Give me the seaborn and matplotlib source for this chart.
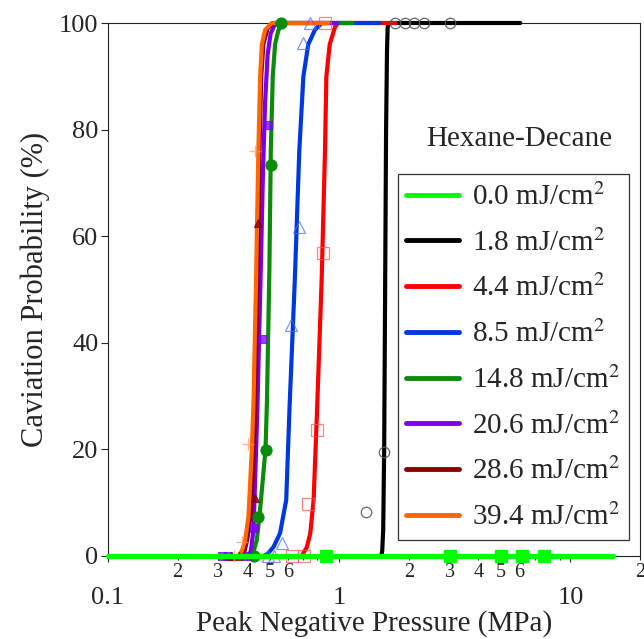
import numpy as np
import pandas as pd
import seaborn as sns
import matplotlib
matplotlib.use("Agg")
import matplotlib.pyplot as plt

sns.set_style("ticks")
plt.rcParams["font.family"] = ["Liberation Serif", "DejaVu Serif"]
plt.rcParams["mathtext.fontset"] = "stix"

# ---------------- data ----------------
fluences = ["0.0", "1.8", "4.4", "8.5", "14.8", "20.6", "28.6", "39.4"]
colors = ["#00ff00", "#000000", "#ff0000", "#0038e0", "#0a8c0a", "#7a00f0", "#8b0000", "#ff6600"]

# fitted curves (pressure MPa, probability %)
c00_x = [0.1, 15.3]
c00_y = [0, 0]
c18_x = [1.45, 1.52, 1.535, 1.55, 1.565, 1.58, 1.595, 1.61, 1.62, 1.63, 6.07]
c18_y = [0, 0, 1, 5, 20, 50, 80, 95, 99, 100, 100]
c44_x = [0.60, 0.69, 0.725, 0.75, 0.775, 0.80, 0.84, 0.868, 0.88, 0.91, 0.96, 0.99, 1.75]
c44_y = [0, 0, 1.7, 4.3, 10.5, 26, 52, 76, 90, 96, 99.3, 100, 100]
c85_x = [0.42, 0.47, 0.49, 0.52, 0.555, 0.59, 0.61, 0.643, 0.672, 0.70, 0.735, 0.785, 0.84, 1.50]
c85_y = [0, 0, 0.4, 1.7, 4.3, 10.5, 28, 52, 76, 90, 96, 98.7, 100, 100]
c148_x = [0.38, 0.41, 0.426, 0.44, 0.452, 0.48, 0.487, 0.499, 0.506, 0.516, 0.528, 0.546, 0.574, 1.14]
c148_y = [0, 0, 0.8, 3, 7.4, 20, 29, 54, 76, 90, 96, 98.7, 100, 100]
c206_x = [0.37, 0.405, 0.415, 0.426, 0.443, 0.458, 0.468, 0.478, 0.49, 0.505, 0.53, 0.98]
c206_y = [0, 0, 1, 5, 28, 54, 72, 85, 94, 98, 100, 100]
c286_x = [0.36, 0.385, 0.40, 0.415, 0.428, 0.436, 0.445, 0.452, 0.46, 0.47, 0.49, 0.52, 0.88]
c286_y = [0, 0, 3, 8, 20, 35, 55, 76, 90, 96, 99, 100, 100]
c394_x = [0.33, 0.366, 0.38, 0.392, 0.405, 0.419, 0.426, 0.437, 0.447, 0.455, 0.463, 0.478, 0.511, 0.90]
c394_y = [0, 0, 1, 3, 7.4, 20, 29, 52, 76, 90, 96, 98.7, 100, 100]

# measured points
p00_x = [0.88, 3.0, 5.0, 6.2, 7.7]
p00_y = [0, 0, 0, 0, 0]
p18_x = [1.30, 1.57, 1.75, 1.93, 2.10, 2.32, 3.02]
p18_y = [8.2, 19.6, 100, 100, 100, 100, 100]
p44_x = [0.624, 0.701, 0.736, 0.801, 0.85, 0.87]
p44_y = [0, 0, 9.8, 23.6, 56.8, 100]
p85_x = [0.49, 0.52, 0.565, 0.618, 0.673, 0.696, 0.749]
p85_y = [0, 0, 2.4, 43.3, 61.7, 96.2, 100]
p148_x = [0.43, 0.447, 0.48, 0.506, 0.561]
p148_y = [0, 7.3, 19.8, 73.4, 100]
p206_x = [0.31, 0.33, 0.398, 0.426, 0.463, 0.491]
p206_y = [0, 0, 0, 5.2, 40.8, 80.9]
p286_x = [0.34, 0.37, 0.433, 0.447]
p286_y = [0, 0, 10.8, 62.4]
p394_x = [0.35, 0.38, 0.405, 0.433]
p394_y = [0, 2.7, 21, 75.9]

x_major = [0.1, 1, 10]
x_major_labels = ["0.1", "1", "10"]
y_ticks = [0, 20, 40, 60, 80, 100]

curves = [(c00_x, c00_y), (c18_x, c18_y), (c44_x, c44_y), (c85_x, c85_y),
          (c148_x, c148_y), (c206_x, c206_y), (c286_x, c286_y), (c394_x, c394_y)]
points = [(p00_x, p00_y), (p18_x, p18_y), (p44_x, p44_y), (p85_x, p85_y),
          (p148_x, p148_y), (p206_x, p206_y), (p286_x, p286_y), (p394_x, p394_y)]

# marker styles: (marker, size, facecolor, edgecolor, alpha, mew)
mstyles = [
    ("s", 9, "#00ff00", "#00ff00", 1.0, 1.0),
    ("o", 7.5, "none", "#555555", 0.9, 0.9),
    ("s", 8, "none", "#ff5050", 0.7, 0.9),
    ("^", 8.5, "none", "#4a6cf0", 0.7, 0.9),
    ("o", 8, "#0a8c0a", "#0a8c0a", 1.0, 0.8),
    ("s", 6, "#7a00f0", "#7a00f0", 0.75, 0.8),
    ("^", 5.5, "#8b0000", "#8b0000", 0.8, 0.8),
    ("+", 9, "#ff9060", "#ff9060", 0.7, 1.0),
]

# ---------------- figure ----------------
fig = plt.figure(figsize=(6.44, 6.39), dpi=100)
ax = fig.add_axes([0.1677, 0.1299, 0.8261, 0.8341])
ax.set_xscale("log")

order = [1, 2, 3, 4, 5, 6, 7, 0]
handles = {}
for i in order:
    cx, cy = curves[i]
    lw = 3.8 if i == 0 else 3.0
    sns.lineplot(x=cx, y=cy, ax=ax, color=colors[i], lw=lw, estimator=None,
                 sort=False, clip_on=False, zorder=3 + (2 if i == 0 else 0),
                 label=f"{fluences[i]} mJ/cm$^2$", legend=False)
    handles[i] = ax.get_lines()[-1]

for i in [1, 2, 3, 4, 5, 6, 7, 0]:
    px, py = points[i]
    m, ms, fc, ec, al, mew = mstyles[i]
    sns.lineplot(x=px, y=py, ax=ax, color=ec, linestyle="none", marker=m,
                 markersize=ms, markerfacecolor=fc, markeredgecolor=ec,
                 markeredgewidth=mew, alpha=al, estimator=None, sort=False,
                 clip_on=False, zorder=6 if i == 0 else 4, legend=False)

ax.set_xlim(0.1, 20)
ax.set_ylim(0, 100)

# ticks
ax.set_xticks(x_major)
ax.set_xticklabels(x_major_labels)
minor_ticks = [0.2, 0.3, 0.4, 0.5, 0.6, 0.7, 0.8, 0.9,
               2, 3, 4, 5, 6, 7, 8, 9, 20]
minor_labels = ["2", "3", "4", "5", "6", "", "", "",
                "2", "3", "4", "5", "6", "", "", "", "2"]
ax.set_xticks(minor_ticks, minor=True)
ax.set_xticklabels(minor_labels, minor=True)
ax.set_yticks(y_ticks)
ax.set_yticklabels([str(v) for v in y_ticks])

ax.tick_params(axis="x", which="major", direction="out", length=4, width=0.8,
               labelsize=19, pad=18)
ax.tick_params(axis="x", which="minor", direction="out", length=3, width=0.8,
               labelsize=14.5, pad=2)
ax.tick_params(axis="y", which="both", direction="out", length=5, width=0.8,
               labelsize=19, pad=2)
ax.yaxis.set_minor_locator(matplotlib.ticker.NullLocator())

for s in ax.spines.values():
    s.set_visible(True)
    s.set_linewidth(0.8)
    s.set_color("#222222")

ax.set_xlabel("Peak Negative Pressure (MPa)", fontsize=21, labelpad=1)
ax.set_ylabel("Caviation Probability (%)", fontsize=22, labelpad=6)

# legend
leg_order = [0, 1, 2, 3, 4, 5, 6, 7]
leg = ax.legend([handles[i] for i in leg_order],
                [f"{fluences[i]} mJ/cm$^2$" for i in leg_order],
                loc="lower right", bbox_to_anchor=(0.979, 0.030),
                bbox_transform=ax.transAxes, borderaxespad=0, fontsize=21,
                handlelength=1.8, handletextpad=0.45, labelspacing=0.62,
                borderpad=0.3, frameon=True, fancybox=False, framealpha=1)
leg.get_frame().set_edgecolor("#333333")
leg.get_frame().set_linewidth(0.9)
for h in leg.get_lines():
    h.set_linewidth(3.5)
leg.set_zorder(10)

ax.text(0.7726, 0.782, "Hexane-Decane", transform=ax.transAxes, fontsize=21,
        ha="center", va="center")

fig.savefig("out.png", dpi=100)
